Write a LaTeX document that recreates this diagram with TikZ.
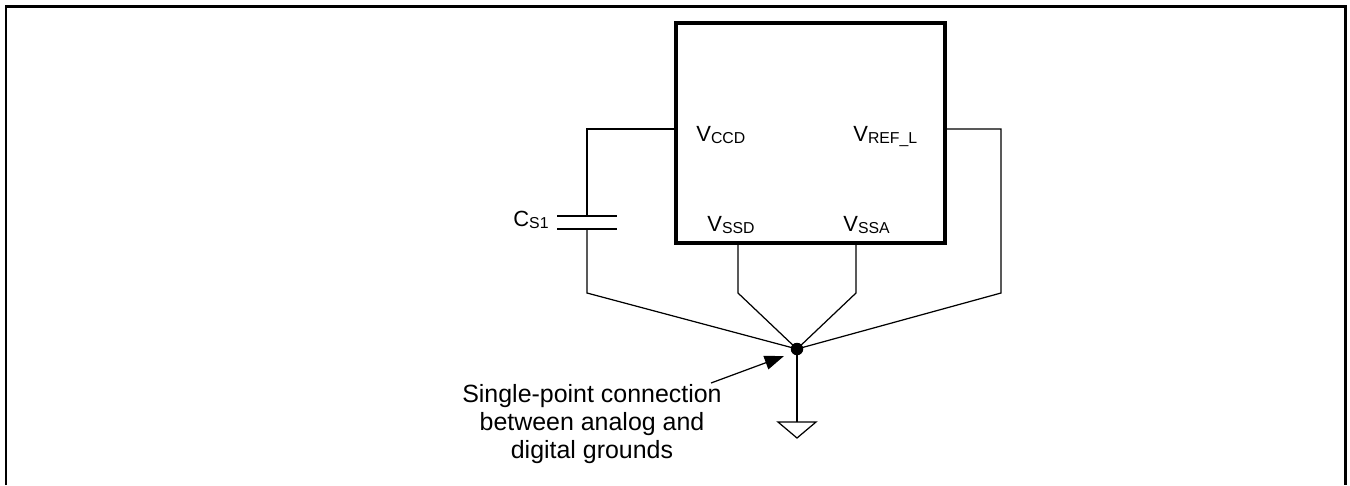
\documentclass[tikz,border=0pt]{standalone}
\usepackage{fontspec}
\setmainfont{Liberation Sans}
\usetikzlibrary{arrows.meta}

\newcommand{\pinlbl}[2]{#1\raisebox{-1.5pt}{\fontsize{9}{10}\selectfont #2}}

\begin{document}
\begin{tikzpicture}[x=0.02cm, y=-0.02cm,
  wire/.style={line width=0.7pt},
  chip/.style={line width=2.3pt},
  pin/.style={anchor=base west, inner sep=0pt, font=\fontsize{12.5}{14}\selectfont}]
  \useasboundingbox (0,0) rectangle (1350,485);
  % outer frame, open at the bottom
  \draw[line width=1.7pt] (6,485) -- (6,6.3) -- (1345,6.3) -- (1345,485);
  % device
  \draw[chip] (676,22.7) rectangle (945,243);
  \node[pin] (lccd) at (696,141) {\pinlbl{V}{CCD}};
  \node[pin] (lref) at (853,141) {\pinlbl{V}{REF\_L}};
  \node[pin] (lssd) at (707,231) {\pinlbl{V}{SSD}};
  \node[pin] (lssa) at (843,231) {\pinlbl{V}{SSA}};
  \node[pin] (lcs) at (513,226) {\pinlbl{C}{S1}};
  % pins
  \coordinate (vccd) at (676,129);
  \coordinate (vref) at (945,129);
  \coordinate (vssd) at (738,243);
  \coordinate (vssa) at (856,243);
  % capacitor
  \coordinate (capt) at (587,216);
  \coordinate (capb) at (587,229);
  \draw[wire] (557,216) -- (617,216);
  \draw[wire] (557,229) -- (617,229);
  % star point
  \node[circle, fill, inner sep=0pt, minimum size=0.25cm] (star) at (797,349) {};
  \draw[wire] (vccd) -- (587,129) -- (capt);
  \draw[wire] (capb) -- (587,293) -- (star.center);
  \draw[wire] (vssd) -- (738,293) -- (star.center);
  \draw[wire] (vssa) -- (856,293) -- (star.center);
  \draw[wire] (vref) -- (1001,129) -- (1001,293) -- (star.center);
  % ground
  \coordinate (gnd) at (797,422);
  \draw[wire] (star.center) -- (gnd);
  \draw[wire] (778,422) -- (816,422) -- (797,438) -- cycle;
  % note
  \node[align=center, inner sep=0pt, font=\fontsize{14.2}{16.2}\selectfont] (note) at (592,424)
    {Single-point connection\\between analog and\\digital grounds};
  \coordinate (tail) at (711,383);
  \coordinate (tip) at (784,356);
  \draw[wire, -{Triangle[length=11pt, width=8pt]}] (tail) -- (tip);
\end{tikzpicture}
\end{document}
